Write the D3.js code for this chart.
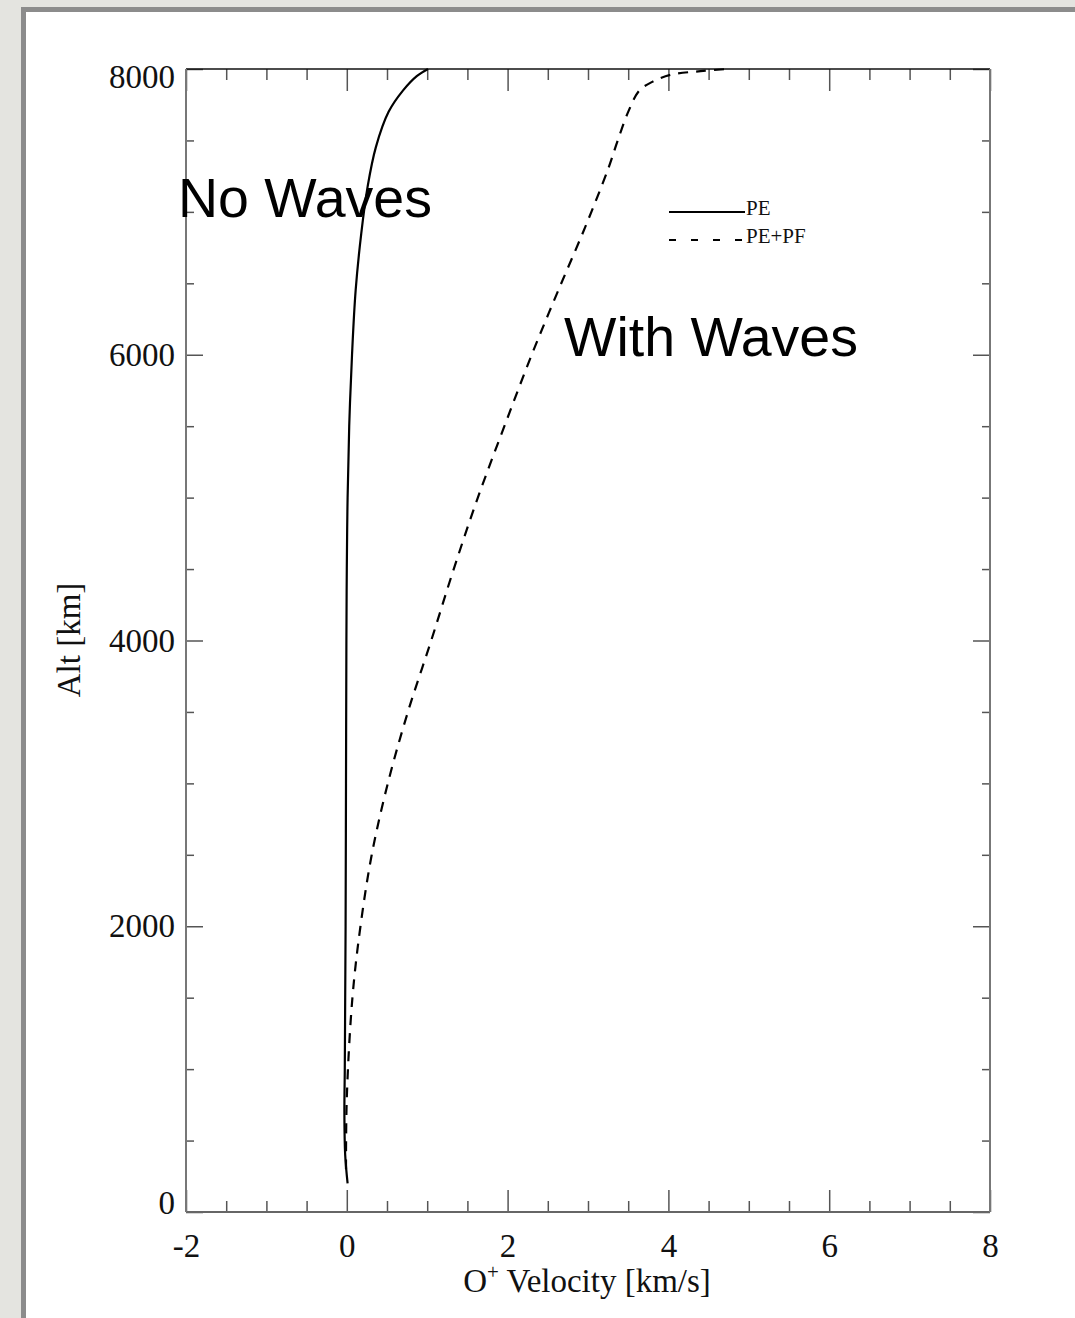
<!DOCTYPE html>
<html>
<head>
<meta charset="utf-8">
<script src="https://cdn.jsdelivr.net/npm/d3@7"></script>
<style>
  body { margin: 0; background: #e4e4e0; }
  svg { display: block; }
</style>
</head>
<body>
<script>
// O+ velocity profiles, altitude in km, velocity in km/s
var peAlt = [200, 400, 700, 1000, 1500, 2000, 3000, 4000, 4500, 5000, 5500, 6000, 6450, 6850, 7180, 7450, 7700, 7850, 7950, 8000];
var peVel = [0.01, -0.02, -0.03, -0.025, -0.02, -0.015, -0.01, -0.005, 0.0, 0.01, 0.03, 0.065, 0.11, 0.18, 0.26, 0.36, 0.52, 0.70, 0.87, 1.01];

var pfAlt = [300, 800, 1500, 2000, 2500, 3000, 3500, 4000, 4500, 5000, 5500, 6000, 6450, 6900, 7300, 7500, 7700, 7850, 7910, 7960, 7985, 8000];
var pfVel = [-0.01, 0.0, 0.07, 0.17, 0.31, 0.51, 0.76, 1.05, 1.33, 1.63, 1.96, 2.3, 2.63, 2.97, 3.25, 3.37, 3.5, 3.64, 3.8, 4.03, 4.4, 4.74];

var xTicks = [-2, 0, 2, 4, 6, 8];
var yTicks = [0, 2000, 4000, 6000, 8000];
var legendNames = ["PE", "PE+PF"];

var W = 1075, H = 1318;
var mLeft = 186, mRight = 990, mTop = 69, mBottom = 1212;

var svg = d3.select("body").append("svg")
    .attr("width", W)
    .attr("height", H);

// panel
svg.append("rect")
    .attr("x", 23.5).attr("y", 9.5)
    .attr("width", W + 20).attr("height", H + 20)
    .attr("fill", "#fff")
    .attr("stroke", "#8c8c8c")
    .attr("stroke-width", 5);

var x = d3.scaleLinear().domain([-2, 8]).range([mLeft, mRight]);
var y = d3.scaleLinear().domain([0, 8000]).range([mBottom, mTop]);

var xMinor = d3.range(-2, 8.01, 0.5).filter(function(d) { return xTicks.indexOf(d) < 0; });
var yMinor = d3.range(0, 8001, 500).filter(function(d) { return yTicks.indexOf(d) < 0; });

function tickAxis(g, axis) {
  g.call(axis);
  g.selectAll("text").remove();
  g.select(".domain").remove();
  g.selectAll("line").attr("stroke", "#555").attr("stroke-width", 1.5);
}

// bottom ticks (inward)
svg.append("g").attr("transform", "translate(0," + mBottom + ")")
    .call(tickAxis, d3.axisTop(x).tickValues(xTicks).tickSize(22));
svg.append("g").attr("transform", "translate(0," + mBottom + ")")
    .call(tickAxis, d3.axisTop(x).tickValues(xMinor).tickSize(11));
// top ticks
svg.append("g").attr("transform", "translate(0," + mTop + ")")
    .call(tickAxis, d3.axisBottom(x).tickValues(xTicks).tickSize(22));
svg.append("g").attr("transform", "translate(0," + mTop + ")")
    .call(tickAxis, d3.axisBottom(x).tickValues(xMinor).tickSize(11));
// left ticks
svg.append("g").attr("transform", "translate(" + mLeft + ",0)")
    .call(tickAxis, d3.axisRight(y).tickValues(yTicks).tickSize(17));
svg.append("g").attr("transform", "translate(" + mLeft + ",0)")
    .call(tickAxis, d3.axisRight(y).tickValues(yMinor).tickSize(8));
// right ticks
svg.append("g").attr("transform", "translate(" + mRight + ",0)")
    .call(tickAxis, d3.axisLeft(y).tickValues(yTicks).tickSize(17));
svg.append("g").attr("transform", "translate(" + mRight + ",0)")
    .call(tickAxis, d3.axisLeft(y).tickValues(yMinor).tickSize(8));

// frame
svg.append("line").attr("x1", mLeft).attr("x2", mRight).attr("y1", mTop).attr("y2", mTop)
    .attr("stroke", "#111").attr("stroke-width", 1.5);
svg.append("line").attr("x1", mLeft).attr("x2", mRight).attr("y1", mBottom).attr("y2", mBottom)
    .attr("stroke", "#666").attr("stroke-width", 2);
svg.append("line").attr("x1", mLeft).attr("x2", mLeft).attr("y1", mTop).attr("y2", mBottom)
    .attr("stroke", "#777").attr("stroke-width", 2);
svg.append("line").attr("x1", mRight).attr("x2", mRight).attr("y1", mTop).attr("y2", mBottom)
    .attr("stroke", "#777").attr("stroke-width", 2);

// tick labels
var xLab = svg.append("g").attr("transform", "translate(0," + mBottom + ")")
    .call(d3.axisBottom(x).tickValues(xTicks).tickSize(0).tickPadding(22)
      .tickFormat(function(d) { return String(d); }));
var yLab = svg.append("g").attr("transform", "translate(" + mLeft + ",0)")
    .call(d3.axisLeft(y).tickValues(yTicks).tickSize(0).tickPadding(11)
      .tickFormat(function(d) { return String(d); }));
[xLab, yLab].forEach(function(g) {
  g.select(".domain").remove();
  g.selectAll("text")
      .attr("font-family", "'Liberation Serif', 'Times New Roman', serif")
      .attr("font-size", 33)
      .attr("fill", "#111");
});
yLab.selectAll("text").filter(function(d) { return d === 8000; }).attr("dy", "0.55em");
yLab.selectAll("text").filter(function(d) { return d === 0; }).attr("dy", "0.05em");

// axis titles
var xt = svg.append("text")
    .attr("x", 587).attr("y", 1292)
    .attr("text-anchor", "middle")
    .attr("font-family", "'Liberation Serif', 'Times New Roman', serif")
    .attr("font-size", 33)
    .attr("fill", "#111");
xt.append("tspan").text("O");
xt.append("tspan").attr("dy", -13).attr("font-size", 21).text("+");
xt.append("tspan").attr("dy", 13).text(" Velocity [km/s]");

svg.append("text")
    .attr("transform", "translate(80,640) rotate(-90)")
    .attr("text-anchor", "middle")
    .attr("font-family", "'Liberation Serif', 'Times New Roman', serif")
    .attr("font-size", 33)
    .attr("fill", "#111")
    .text("Alt [km]");

// curves
var pe = peAlt.map(function(a, i) { return {alt: a, v: peVel[i]}; });
var pf = pfAlt.map(function(a, i) { return {alt: a, v: pfVel[i]}; });

var line = d3.line()
    .x(function(d) { return x(d.v); })
    .y(function(d) { return y(d.alt); })
    .curve(d3.curveCatmullRom.alpha(0.5));

svg.append("path").datum(pe)
    .attr("d", line)
    .attr("fill", "none")
    .attr("stroke", "#000")
    .attr("stroke-width", 2.2);

svg.append("path").datum(pf)
    .attr("d", line)
    .attr("fill", "none")
    .attr("stroke", "#000")
    .attr("stroke-width", 2.2)
    .attr("stroke-dasharray", "10,8");

// legend
var legend = svg.append("g");
legendNames.forEach(function(name, i) {
  var ly = 212 + i * 28;
  legend.append("line")
      .attr("x1", 669).attr("x2", 745)
      .attr("y1", ly).attr("y2", ly)
      .attr("stroke", "#000").attr("stroke-width", 2)
      .attr("stroke-dasharray", i === 0 ? null : "7,15");
  legend.append("text")
      .attr("x", 746).attr("y", ly + 3)
      .attr("font-family", "'Liberation Serif', 'Times New Roman', serif")
      .attr("font-size", 21)
      .attr("fill", "#111")
      .text(name);
});

// annotations
svg.append("text")
    .attr("x", 178).attr("y", 217)
    .attr("font-family", "'Liberation Sans', Arial, sans-serif")
    .attr("font-size", 55.5)
    .attr("fill", "#000")
    .text("No Waves");
svg.append("text")
    .attr("x", 564).attr("y", 356)
    .attr("font-family", "'Liberation Sans', Arial, sans-serif")
    .attr("font-size", 55.5)
    .attr("fill", "#000")
    .text("With Waves");
</script>
</body>
</html>
